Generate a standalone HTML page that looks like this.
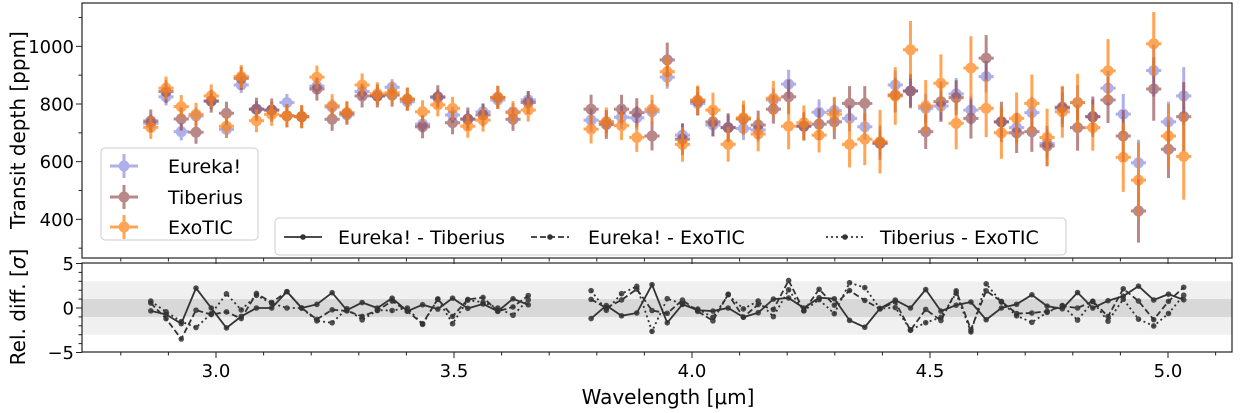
<!DOCTYPE html>
<html><head><meta charset="utf-8"><style>
body{margin:0;background:#fff;}
svg{display:block;font-family:"DejaVu Sans","Liberation Sans",sans-serif;}
</style></head><body>
<svg id="c" width="1245" height="413" viewBox="0 0 1245 413"></svg>
<script>
const wlA=[2.863,2.895,2.927,2.958,2.990,3.022,3.053,3.085,3.117,3.149,3.180,3.212,3.244,3.275,3.307,3.339,3.370,3.402,3.434,3.466,3.497,3.529,3.561,3.592,3.624,3.656];
const wlB=[3.788,3.820,3.852,3.884,3.916,3.948,3.980,4.012,4.044,4.076,4.108,4.139,4.171,4.203,4.235,4.267,4.299,4.331,4.363,4.395,4.427,4.459,4.491,4.523,4.555,4.586,4.618,4.650,4.682,4.714,4.746,4.778,4.810,4.842,4.874,4.906,4.938,4.970,5.001,5.033];
const wavelengths=wlA.concat(wlB);
const eureka=[733,825,704,758,810,712,866,782,779,805,756,862,789,762,843,828,858,808,730,822,762,747,773,814,773,814,
744,738,754,752,773,893,692,802,727,718,715,710,814,869,723,771,777,750,721,663,866,845,785,793,835,779,895,738,718,770,663,785,805,756,855,765,596,916,738,828];
const tiberius=[741,843,748,702,810,768,889,782,779,759,756,852,747,768,828,828,831,817,721,825,735,748,762,823,747,805,
782,729,782,770,689,953,678,810,738,718,748,727,782,825,723,730,738,802,802,665,831,845,704,808,822,750,959,738,700,704,654,789,718,756,814,689,429,852,643,756];
const exotic=[719,855,791,764,828,723,895,742,764,759,756,893,794,770,866,835,839,817,773,797,785,723,744,823,770,779,
713,738,725,684,782,912,660,814,779,660,752,696,820,723,735,692,765,660,678,669,828,988,793,872,733,925,785,700,750,802,684,773,805,718,915,615,536,1009,689,618];
const errE=[30,30,30,30,28,30,28,28,28,30,28,28,28,28,28,30,28,30,28,28,28,30,28,28,30,30,
40,40,40,40,40,40,40,40,40,45,40,40,40,50,45,45,45,45,45,45,50,55,50,50,55,50,55,50,50,55,50,55,60,60,60,70,80,90,70,100];
const errT=[40,40,40,40,40,40,40,40,40,40,40,40,40,40,40,40,40,40,40,40,40,40,40,40,40,40,
50,50,50,50,50,60,55,50,50,50,50,50,50,60,50,55,60,60,60,60,60,60,60,70,60,70,80,70,70,70,70,70,80,70,80,90,110,110,100,120];
const errX=[40,40,40,40,40,40,40,40,40,40,40,40,40,40,40,40,40,40,40,40,40,40,40,40,40,40,
50,50,50,50,50,50,60,50,60,60,60,60,60,80,60,60,60,80,90,110,100,100,90,100,90,110,100,90,90,100,100,90,100,80,110,120,130,110,110,150];
const yTicks=[400,600,800,1000];
const rTicks=[-5,0,5];
const xTicks=[3.0,3.5,4.0,4.5,5.0];

const svg=document.getElementById('c');
const NS='http://www.w3.org/2000/svg';
function mk(tag,attrs,parent){const e=document.createElementNS(NS,tag);for(const k in attrs)e.setAttribute(k,attrs[k]);(parent||svg).appendChild(e);return e;}
const L=82,R=1232,T1=3,B1=258,T2=263,B2=352;
const xs=w=>216+(w-3)*476;
const ys=v=>104-(v-800)*0.2883;
const yr=v=>308-v*8.9;
const half=0.0159*476;

const bg=mk('g',{});


mk('rect',{x:L,y:yr(3),width:R-L,height:yr(-3)-yr(3),fill:'#f0f0f0'},bg);
mk('rect',{x:L,y:yr(1),width:R-L,height:yr(-1)-yr(1),fill:'#d8d8d8'},bg);

const series=[{n:'eureka',v:eureka,e:errE,c:'#7b7bdb',a:0.6},{n:'tiberius',v:tiberius,e:errT,c:'#8b3a3a',a:0.6},{n:'exotic',v:exotic,e:errX,c:'#ff7f0e',a:0.7}];
series.forEach(s=>{
  const g=mk('g',{opacity:s.a});
  
  
  wavelengths.forEach((w,i)=>{
    const x=xs(w),y=ys(s.v[i]);
    const p=mk('g',{},g);
    
    
    mk('line',{x1:x,x2:x,y1:ys(s.v[i]+s.e[i]),y2:ys(s.v[i]-s.e[i]),stroke:s.c,'stroke-width':3},p);
    mk('line',{x1:x-half,x2:x+half,y1:y,y2:y,stroke:s.c,'stroke-width':3},p);
    mk('circle',{cx:x,cy:y,r:5.5,fill:s.c},p);
  });
});

const pairs=[{n:'eureka-tiberius',a:eureka,b:tiberius,ea:errE,eb:errT,d:''},{n:'eureka-exotic',a:eureka,b:exotic,ea:errE,eb:errX,d:'6,3'},{n:'tiberius-exotic',a:tiberius,b:exotic,ea:errT,eb:errX,d:'2,3'}];
pairs.forEach(p=>{
  const g=mk('g',{});
  
  
  [[0,wlA.length],[wlA.length,wavelengths.length]].forEach(([s0,s1])=>{
    let pts=[];
    for(let i=s0;i<s1;i++){
      const r=(p.a[i]-p.b[i])/(0.5*Math.sqrt(p.ea[i]*p.ea[i]+p.eb[i]*p.eb[i]));
      const rr=Math.max(-5,Math.min(5,r));
      pts.push(xs(wavelengths[i])+','+yr(rr));
      const c=mk('circle',{cx:xs(wavelengths[i]),cy:yr(rr),r:2.8,fill:'#333','fill-opacity':0.85},g);
      
      
    }
    mk('polyline',{points:pts.join(' '),fill:'none',stroke:'#333','stroke-width':1.8,'stroke-dasharray':p.d},g);
  });
});

[[T1,B1],[T2,B2]].forEach(([t,b],k)=>{
  const f=mk('rect',{x:L,y:t,width:R-L,height:b-t,fill:'none',stroke:'#222','stroke-width':1.2});
  
  
  for(let w=2.8;w<=5.25;w+=0.1){const x=xs(w);if(x<L||x>R)continue;
    const major=Math.abs(w*2-Math.round(w*2))<0.01;
    mk('line',{x1:x,x2:x,y1:b,y2:b+(major?6:3.5),stroke:'#222','stroke-width':1});}
});
yTicks.forEach(v=>{
  mk('line',{x1:L-6,x2:L,y1:ys(v),y2:ys(v),stroke:'#222'});
  const t=mk('text',{x:L-8,y:ys(v)+6.5,'text-anchor':'end','font-size':18});t.textContent=v;
  
});
for(let v=300;v<=1100;v+=100){if(yTicks.includes(v))continue;mk('line',{x1:L-3.5,x2:L,y1:ys(v),y2:ys(v),stroke:'#222'});}
rTicks.forEach(v=>{
  mk('line',{x1:L-6,x2:L,y1:yr(v),y2:yr(v),stroke:'#222'});
  const t=mk('text',{x:L-8,y:yr(v)+6.5,'text-anchor':'end','font-size':18});t.textContent=v<0?'\u2212'+(-v):v;
  
});
for(let v=-4;v<=4;v++){if(rTicks.includes(v))continue;mk('line',{x1:L-3.5,x2:L,y1:yr(v),y2:yr(v),stroke:'#222'});}
xTicks.forEach(w=>{
  const t=mk('text',{x:xs(w),y:B2+25,'text-anchor':'middle','font-size':18});t.textContent=w.toFixed(1);
  
});
</script>
<svg width="1245" height="413" style="position:absolute;left:0;top:0" font-family="DejaVu Sans, Liberation Sans, sans-serif">
<text transform="translate(25,130) rotate(-90)" text-anchor="middle" font-size="20">Transit depth [ppm]</text>
<text transform="translate(25,307) rotate(-90)" text-anchor="middle" font-size="20">Rel. diff. [<tspan font-style="italic">σ</tspan>]</text>
<text x="668" y="404" text-anchor="middle" font-size="20">Wavelength [μm]</text>
<g>
<rect x="101" y="148" width="157" height="92" rx="4" fill="#fff" fill-opacity="0.85" stroke="#ccc"/>
<g opacity="0.6"><line x1="110" x2="138" y1="166" y2="166" stroke="#7b7bdb" stroke-width="3"/><line x1="124" x2="124" y1="154" y2="178" stroke="#7b7bdb" stroke-width="3"/><circle cx="124" cy="166" r="5.5" fill="#7b7bdb"/></g>
<text x="168" y="173" font-size="19">Eureka!</text>
<g opacity="0.6"><line x1="110" x2="138" y1="197" y2="197" stroke="#8b3a3a" stroke-width="3"/><line x1="124" x2="124" y1="185" y2="209" stroke="#8b3a3a" stroke-width="3"/><circle cx="124" cy="197" r="5.5" fill="#8b3a3a"/></g>
<text x="168" y="204" font-size="19">Tiberius</text>
<g opacity="0.7"><line x1="110" x2="138" y1="227" y2="227" stroke="#ff7f0e" stroke-width="3"/><line x1="124" x2="124" y1="215" y2="239" stroke="#ff7f0e" stroke-width="3"/><circle cx="124" cy="227" r="5.5" fill="#ff7f0e"/></g>
<text x="168" y="234" font-size="19">ExoTIC</text>
</g>
<g>
<rect x="275" y="218" width="791" height="37" rx="4" fill="#fff" fill-opacity="0.85" stroke="#ccc"/>
<g><line x1="284" x2="322" y1="237" y2="237" stroke="#333" stroke-width="1.8"/><circle cx="303" cy="237" r="2.8" fill="#333"/><text x="338" y="244" font-size="19">Eureka! - Tiberius</text></g>
<g><line x1="531" x2="569" y1="237" y2="237" stroke="#333" stroke-width="1.8" stroke-dasharray="6,3"/><circle cx="550" cy="237" r="2.8" fill="#333"/><text x="588" y="244" font-size="19">Eureka! - ExoTIC</text></g>
<g><line x1="826" x2="864" y1="237" y2="237" stroke="#333" stroke-width="1.8" stroke-dasharray="2,3"/><circle cx="845" cy="237" r="2.8" fill="#333"/><text x="880" y="244" font-size="19">Tiberius - ExoTIC</text></g>
</g>
</svg>
</body></html>
